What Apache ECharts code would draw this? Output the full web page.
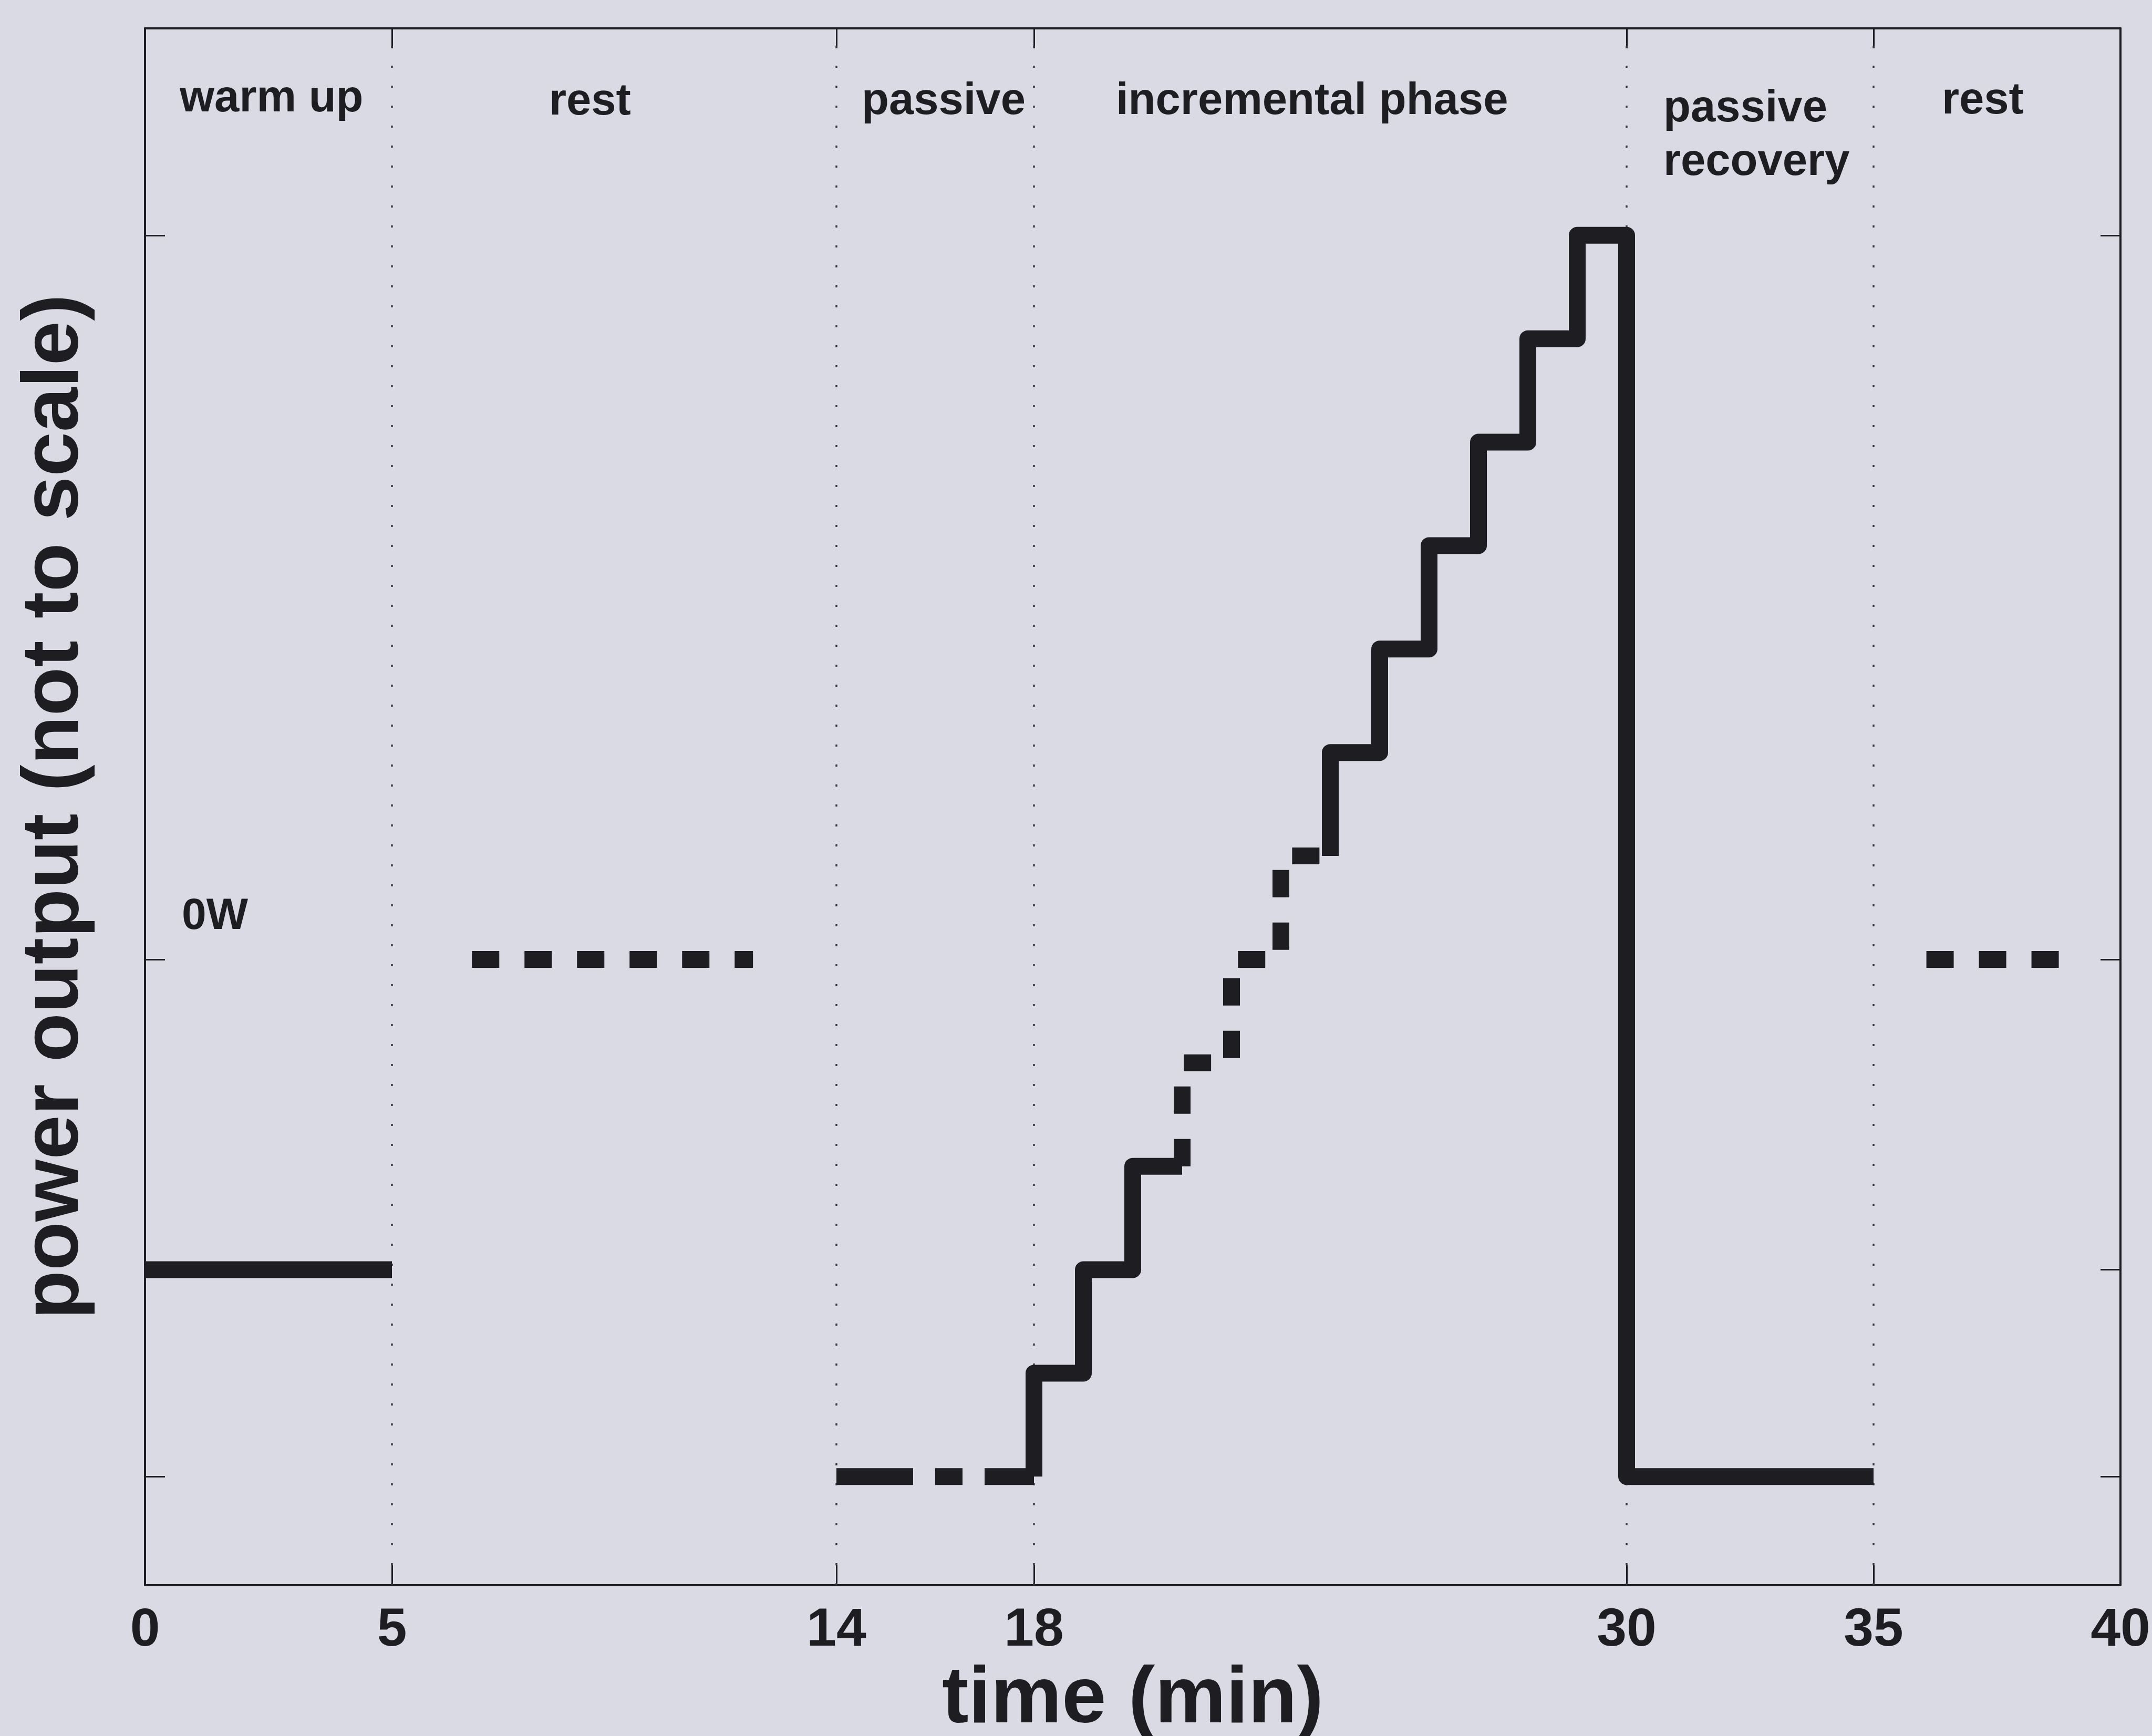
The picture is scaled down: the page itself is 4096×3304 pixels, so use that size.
<!DOCTYPE html>
<html>
<head>
<meta charset="utf-8">
<style>
  html, body { margin: 0; padding: 0; background: #dadae4; }
  #chart { width: 4096px; height: 3304px; }
</style>
<script src="https://cdn.jsdelivr.net/npm/echarts@6/dist/echarts.min.js"></script>
</head>
<body>
<div id="chart"></div>
<script>
// ---------------- data ----------------
const xTicks = [0, 5, 14, 18, 30, 35, 40];          // time (min) tick labels
const yTicks = [0, 2, 5, 12];                       // level ticks (not to scale)
const phaseBounds = [5, 14, 18, 30, 35];            // dotted phase separators (min)
const phaseNames = ['warm up', 'rest', 'passive', 'incremental phase', 'passive\nrecovery', 'rest'];
const zeroWattLabel = '0W';

const warmUpTime = [0, 5];        const warmUpLevel = 2;
const restTime = [6.62, 12.31];   const restLevel = 5;
const passiveTime = [14, 18];     const passiveLevel = 0;
const stepTimes  = [18, 19, 20, 21, 22, 23, 24, 25, 26, 27, 28, 29];
const stepLevels = [1, 2, 3, 4, 5, 6, 7, 8, 9, 10, 11, 12];
const peakEnd = 30;
const recoveryTime = [30, 35];    const recoveryLevel = 0;
const rest2Time = [36.07, 38.82]; const rest2Level = 5;
const dashedStepSpan = [21, 24];  // part of the staircase drawn dashed

// ---------------- styles ----------------
const FONT = '"Liberation Sans", Arial, Helvetica, sans-serif';
const INK = '#1e1e22';
const LINE_W = 32;
const MID = 0.3465; // canvas 'middle' -> alphabetic baseline offset (em)

// build staircase from the step arrays
const stairs = [[stepTimes[0], passiveLevel]];
stepTimes.forEach((t, i) => {
  const next = i + 1 < stepTimes.length ? stepTimes[i + 1] : peakEnd;
  stairs.push([t, stepLevels[i]]);
  stairs.push([next, stepLevels[i]]);
});
const iA = stairs.findIndex(p => p[0] === dashedStepSpan[0]);
const iB = stairs.findIndex(p => p[0] === dashedStepSpan[1]);
const stairsSolid1 = stairs.slice(0, iA + 1);
const stairsDashed = stairs.slice(iA, iB + 1);
const stairsSolid2 = stairs.slice(iB).concat([[peakEnd, recoveryLevel], [recoveryTime[1], recoveryLevel]]);

function lineSeries(name, data, dash, extra) {
  return Object.assign({
    name, type: 'line', data, symbol: 'none', showSymbol: false,
    animation: false, silent: true, z: 3,
    emphasis: { disabled: true },
    lineStyle: { color: INK, width: LINE_W, type: dash || 'solid', join: 'round', cap: 'butt' }
  }, extra || {});
}

const series = [
  lineSeries('warm up', [[warmUpTime[0], warmUpLevel], [warmUpTime[1], warmUpLevel]], null, {
    markLine: {
      silent: true, animation: false, symbol: ['none', 'none'], z: 1,
      label: { show: false }, emphasis: { disabled: true },
      lineStyle: { color: '#3a3a40', width: 3.5, type: [4, 34] },
      data: phaseBounds.map(x => ({ xAxis: x }))
    }
  }),
  lineSeries('rest', [[restTime[0], restLevel], [restTime[1], restLevel]], [52, 48]),
  lineSeries('passive', [[passiveTime[0], passiveLevel], [passiveTime[1], passiveLevel]], [146, 42, 52, 42]),
  lineSeries('incremental a', stairsSolid1, null),
  lineSeries('incremental b', stairsDashed, [52, 48]),
  lineSeries('incremental c', stairsSolid2, null),
  lineSeries('rest 2', [[rest2Time[0], rest2Level], [rest2Time[1], rest2Level]], [52, 48])
];

// text annotations (left x, baseline y in px)
const labelFs = 85;
const labelPos = [[342, 218], [1045, 224], [1640, 223], [2124, 223], [3166, 237], [3696, 222]];
const labelLineGap = 102;
const graphics = [];
phaseNames.forEach((name, i) => {
  name.split('\n').forEach((line, k) => {
    graphics.push({
      type: 'text', silent: true, z: 10,
      x: labelPos[i][0], y: labelPos[i][1] + k * labelLineGap - MID * labelFs,
      style: { text: line, fill: INK, fontSize: labelFs, fontWeight: 'bold', fontFamily: FONT,
               textAlign: 'left', textVerticalAlign: 'middle', align: 'left', verticalAlign: 'middle' }
    });
  });
});
graphics.push({
  type: 'text', silent: true, z: 10,
  x: 346, y: 1774 - MID * 84,
  style: { text: zeroWattLabel, fill: INK, fontSize: 84, fontWeight: 'bold', fontFamily: FONT,
           textAlign: 'left', textVerticalAlign: 'middle', align: 'left', verticalAlign: 'middle' }
});

const axisLineStyle = { show: true, onZero: false, lineStyle: { color: INK, width: 4 } };
const tickStyle = { show: true, inside: true, length: 38, lineStyle: { color: INK, width: 3 } };

const option = {
  backgroundColor: '#dadae4',
  animation: false,
  grid: { left: 276, right: 60, top: 54, bottom: 287, containLabel: false, outerBoundsMode: 'none' },
  xAxis: [
    {
      type: 'value', min: 0, max: 40, position: 'bottom',
      name: 'time (min)', nameLocation: 'middle', nameGap: 142,
      nameTextStyle: { fontSize: 152, fontWeight: 'bold', fontFamily: FONT, color: INK },
      axisLine: axisLineStyle,
      axisTick: Object.assign({ customValues: xTicks }, tickStyle),
      axisLabel: { customValues: xTicks, margin: 36, fontSize: 102, fontWeight: 'bold', fontFamily: FONT, color: INK, hideOverlap: false },
      splitLine: { show: false }
    },
    {
      type: 'value', min: 0, max: 40, position: 'top',
      axisLine: axisLineStyle,
      axisTick: Object.assign({ customValues: xTicks }, tickStyle),
      axisLabel: { show: false },
      splitLine: { show: false }
    }
  ],
  yAxis: [
    {
      type: 'value', min: -1.05, max: 14, position: 'left',
      name: 'power output (not to scale)', nameLocation: 'middle', nameGap: 94,
      nameTextStyle: { fontSize: 152, fontWeight: 'bold', fontFamily: FONT, color: INK },
      axisLine: axisLineStyle,
      axisTick: Object.assign({ customValues: yTicks }, tickStyle),
      axisLabel: { show: false },
      splitLine: { show: false }
    },
    {
      type: 'value', min: -1.05, max: 14, position: 'right',
      axisLine: axisLineStyle,
      axisTick: Object.assign({ customValues: yTicks }, tickStyle),
      axisLabel: { show: false },
      splitLine: { show: false }
    }
  ],
  series,
  graphic: graphics
};

const chart = echarts.init(document.getElementById('chart'), null, { renderer: 'canvas', width: 4096, height: 3304 });
chart.setOption(option);
</script>
</body>
</html>
